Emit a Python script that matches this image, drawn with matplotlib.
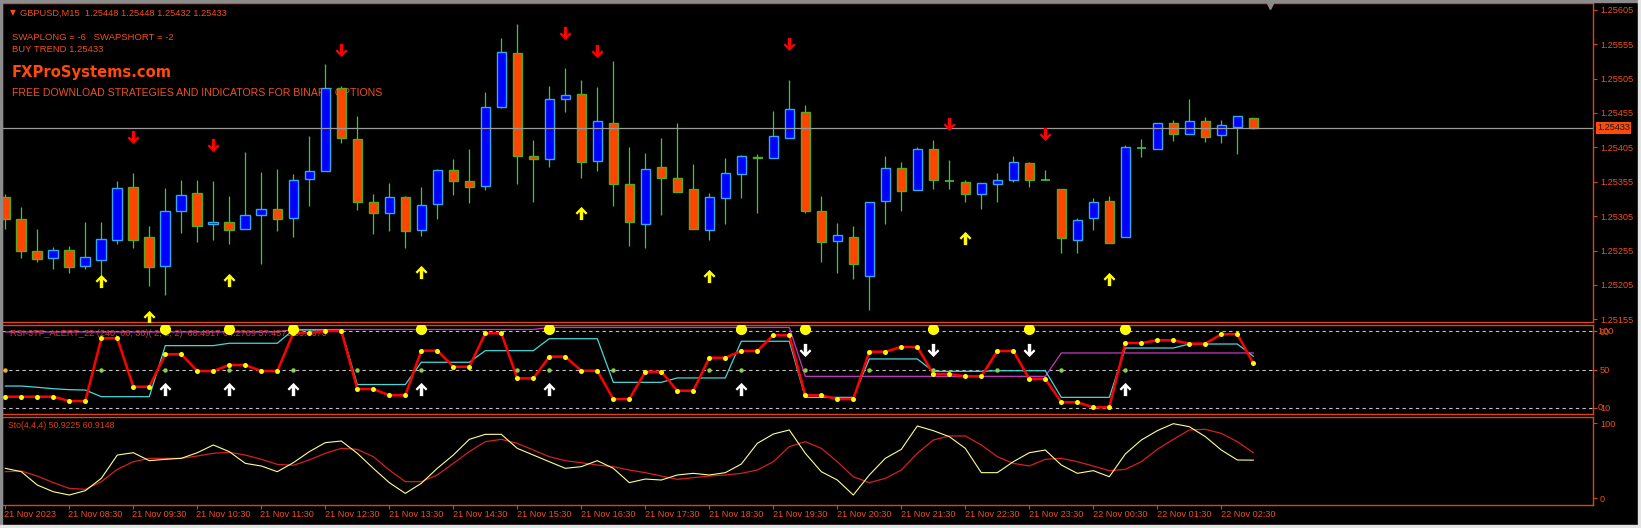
import matplotlib
matplotlib.use('Agg')
import matplotlib.pyplot as plt
import numpy as np
from matplotlib.path import Path
from matplotlib.patches import Rectangle
from matplotlib import font_manager
from matplotlib.font_manager import FontProperties

W, H = 1641, 528

# ---- GBPUSD M15 candles (21 Nov 07:30 .. 22 Nov 03:00)
opens = [1.25333, 1.25301, 1.25255, 1.25244, 1.25255, 1.25233, 1.25241, 1.25271, 1.25348, 1.25274,
         1.25233, 1.25313, 1.25338, 1.25293, 1.25296, 1.25287, 1.25306, 1.25316, 1.25302, 1.25359,
         1.25371, 1.25491, 1.25417, 1.25325, 1.25309, 1.25333, 1.25285, 1.25323, 1.25372, 1.25356,
         1.25349, 1.25464, 1.25542, 1.25392, 1.25388, 1.25475, 1.25483, 1.25385, 1.25440, 1.25352,
         1.25293, 1.25376, 1.25360, 1.25344, 1.25285, 1.25332, 1.25367, 1.25391, 1.25389, 1.25419,
         1.25456, 1.25312, 1.25269, 1.25274, 1.25218, 1.25327, 1.25375, 1.25343, 1.25403, 1.25356,
         1.25355, 1.25337, 1.25352, 1.25357, 1.25382, 1.25357, 1.25344, 1.25271, 1.25303, 1.25327,
         1.25274, 1.25404, 1.25403, 1.25441, 1.25424, 1.25443, 1.25423, 1.25435, 1.25448]
highs = [1.25337, 1.25318, 1.25287, 1.25260, 1.25262, 1.25296, 1.25296, 1.25356, 1.25368, 1.25290,
         1.25346, 1.25357, 1.25358, 1.25356, 1.25334, 1.25399, 1.25369, 1.25373, 1.25366, 1.25421,
         1.25526, 1.25494, 1.25451, 1.25337, 1.25353, 1.25334, 1.25347, 1.25374, 1.25388, 1.25403,
         1.25486, 1.25564, 1.25585, 1.25416, 1.25494, 1.25520, 1.25503, 1.25493, 1.25531, 1.25406,
         1.25397, 1.25418, 1.25441, 1.25381, 1.25339, 1.25389, 1.25394, 1.25395, 1.25458, 1.25503,
         1.25466, 1.25335, 1.25295, 1.25290, 1.25326, 1.25393, 1.25384, 1.25405, 1.25416, 1.25387,
         1.25357, 1.25353, 1.25368, 1.25393, 1.25384, 1.25372, 1.25344, 1.25303, 1.25331, 1.25334,
         1.25408, 1.25417, 1.25441, 1.25445, 1.25475, 1.25449, 1.25445, 1.25450, 1.25448]
lows = [1.25287, 1.25244, 1.25238, 1.25228, 1.25223, 1.25228, 1.25219, 1.25264, 1.25258, 1.25203,
        1.25190, 1.25280, 1.25268, 1.25270, 1.25264, 1.25286, 1.25235, 1.25283, 1.25275, 1.25320,
        1.25370, 1.25411, 1.25314, 1.25279, 1.25283, 1.25258, 1.25276, 1.25301, 1.25336, 1.25324,
        1.25343, 1.25463, 1.25352, 1.25325, 1.25376, 1.25456, 1.25361, 1.25371, 1.25320, 1.25261,
        1.25258, 1.25307, 1.25340, 1.25286, 1.25270, 1.25294, 1.25332, 1.25309, 1.25389, 1.25419,
        1.25309, 1.25239, 1.25223, 1.25214, 1.25169, 1.25293, 1.25313, 1.25343, 1.25344, 1.25344,
        1.25325, 1.25316, 1.25325, 1.25354, 1.25348, 1.25357, 1.25251, 1.25252, 1.25285, 1.25266,
        1.25274, 1.25391, 1.25403, 1.25414, 1.25424, 1.25413, 1.25412, 1.25396, 1.25432]
closes = [1.25301, 1.25255, 1.25243, 1.25255, 1.25231, 1.25245, 1.25272, 1.25346, 1.25271, 1.25231,
          1.25312, 1.25336, 1.25290, 1.25296, 1.25285, 1.25306, 1.25316, 1.25301, 1.25357, 1.25371,
          1.25491, 1.25419, 1.25325, 1.25309, 1.25333, 1.25283, 1.25321, 1.25372, 1.25356, 1.25347,
          1.25464, 1.25544, 1.25392, 1.25388, 1.25475, 1.25481, 1.25384, 1.25443, 1.25352, 1.25296,
          1.25373, 1.25360, 1.25340, 1.25286, 1.25333, 1.25368, 1.25392, 1.25389, 1.25421, 1.25461,
          1.25312, 1.25267, 1.25277, 1.25235, 1.25325, 1.25375, 1.25341, 1.25403, 1.25357, 1.25356,
          1.25337, 1.25353, 1.25357, 1.25384, 1.25357, 1.25357, 1.25273, 1.25300, 1.25326, 1.25266,
          1.25405, 1.25404, 1.25440, 1.25424, 1.25444, 1.25420, 1.25437, 1.25450, 1.25433]

# signal arrows: bar index and price level
sell_idx = [8, 13, 21, 35, 37, 49, 59, 65]
sell_px = [1.25420, 1.25408, 1.25546, 1.25572, 1.25545, 1.25555, 1.25439, 1.25424]
buy_idx = [6, 9, 14, 26, 36, 44, 60, 69]
buy_px = [1.25211, 1.25158, 1.25212, 1.25224, 1.25309, 1.25218, 1.25273, 1.25214]

# ---- RSI 3TF panel
rsi_m30 = [21.4, 21.4, 21.4, 21.4, 16.8, 16.8, 82.8, 82.8, 31.9, 31.9,
           66.0, 66.0, 48.4, 48.4, 54.7, 54.7, 48.4, 48.4, 88.4, 88.4,
           90.5, 90.5, 29.5, 29.5, 22.9, 22.9, 69.8, 69.8, 52.9, 52.9,
           88.1, 88.1, 40.7, 40.7, 63.5, 63.5, 48.7, 48.7, 18.9, 18.9,
           47.7, 47.7, 27.7, 27.7, 62.4, 62.4, 69.5, 69.5, 86.0, 86.0,
           22.8, 22.8, 18.9, 18.9, 68.7, 68.7, 73.7, 73.7, 45.3, 45.3,
           42.8, 42.8, 69.5, 69.5, 40.0, 40.0, 15.5, 15.5, 10.2, 10.2,
           77.9, 77.9, 80.7, 80.7, 77.2, 77.2, 87.1, 87.1, 56.5]
rsi_h1 = [32.6, 32.6, 31.3, 29.8, 28.8, 28.4, 21.4, 21.4, 21.4, 21.4,
          75.1, 75.1, 75.1, 75.1, 77.6, 77.6, 77.6, 77.6, 91.6, 91.6,
          91.6, 91.6, 34.2, 34.2, 34.2, 34.2, 57.6, 57.6, 57.6, 57.6,
          69.8, 69.8, 69.8, 69.8, 82.4, 82.4, 82.4, 82.4, 36.5, 36.5,
          36.5, 36.5, 41.1, 41.1, 41.1, 41.1, 79.7, 79.7, 79.7, 79.7,
          20.7, 20.7, 20.7, 20.7, 61.1, 61.1, 61.1, 61.1, 48.1, 48.1,
          48.1, 48.1, 48.7, 48.7, 48.7, 48.7, 20.7, 20.7, 20.7, 20.7,
          72.6, 72.6, 72.6, 72.6, 76.8, 76.8, 76.8, 76.8, 63.9]
rsi_h4 = [89.5, 89.5, 89.5, 89.5, 89.5, 89.5, 89.5, 89.5, 89.5, 89.5,
          89.5, 89.5, 89.5, 89.5, 89.5, 89.5, 89.5, 89.5, 92.1, 92.1,
          92.1, 92.1, 92.1, 92.1, 92.1, 92.1, 92.1, 92.1, 92.1, 92.1,
          92.1, 92.1, 92.1, 92.1, 94.2, 94.2, 94.2, 94.2, 94.2, 94.2,
          94.2, 94.2, 94.2, 94.2, 94.2, 94.2, 94.2, 94.2, 94.2, 94.2,
          42.8, 42.8, 42.8, 42.8, 42.8, 42.8, 42.8, 42.8, 42.8, 42.8,
          42.8, 42.8, 42.8, 42.8, 42.8, 42.8, 67.4, 67.4, 67.4, 67.4,
          67.4, 67.4, 67.4, 67.4, 67.4, 67.4, 67.4, 67.4, 67.4]
rsi_levels = [90, 50, 10]
rsi_alert_up = [10, 14, 18, 26, 34, 46, 70]
rsi_alert_down = [50, 58, 64]
rsi_cross50 = [6, 10, 14, 18, 22, 26, 32, 34, 38, 44, 46, 50, 54, 58, 62, 66, 70]

# ---- Stochastic(4,4,4)
sto_main = [40.0, 35.5, 17.7, 8.8, 4.4, 10.2, 26.6, 57.7, 60.8, 50.2,
            52.0, 53.3, 60.8, 71.1, 62.2, 46.6, 43.1, 35.5, 47.5, 62.2,
            74.2, 76.4, 60.0, 40.0, 20.9, 6.6, 20.0, 40.0, 57.7, 78.6,
            85.3, 85.3, 66.6, 57.7, 48.8, 40.0, 42.2, 50.2, 40.0, 20.9,
            25.7, 24.4, 31.1, 33.3, 31.1, 34.2, 45.7, 73.3, 85.7, 91.1,
            60.0, 35.5, 24.4, 4.4, 31.1, 53.3, 65.3, 96.4, 90.2, 82.2,
            66.6, 34.2, 34.2, 48.8, 60.8, 64.4, 44.4, 33.3, 36.9, 28.8,
            59.1, 77.7, 90.2, 99.5, 95.5, 82.2, 64.4, 51.1, 50.9]
sto_signal = [35.5, 36.4, 29.7, 20.9, 13.3, 12.0, 22.2, 38.6, 48.8, 53.3,
              53.3, 53.3, 56.4, 60.0, 61.3, 57.7, 52.0, 45.3, 44.0, 51.1,
              60.0, 66.6, 65.3, 55.5, 37.7, 22.2, 22.2, 31.1, 46.6, 62.2,
              75.5, 78.6, 73.3, 64.4, 55.5, 50.2, 47.5, 44.4, 42.2, 37.7,
              34.2, 29.7, 25.3, 27.5, 29.7, 31.1, 33.3, 37.7, 48.8, 68.9,
              75.5, 66.6, 48.8, 28.8, 20.9, 26.6, 37.7, 60.0, 77.7, 83.1,
              83.1, 71.1, 55.5, 46.6, 43.1, 52.0, 53.3, 48.8, 43.1, 36.9,
              38.6, 48.8, 65.3, 78.6, 91.1, 92.0, 86.6, 75.5, 60.9]

time_labels = ['21 Nov 2023', '21 Nov 08:30', '21 Nov 09:30', '21 Nov 10:30', '21 Nov 11:30',
               '21 Nov 12:30', '21 Nov 13:30', '21 Nov 14:30', '21 Nov 15:30', '21 Nov 16:30',
               '21 Nov 17:30', '21 Nov 18:30', '21 Nov 19:30', '21 Nov 20:30', '21 Nov 21:30',
               '21 Nov 22:30', '21 Nov 23:30', '22 Nov 00:30', '22 Nov 01:30', '22 Nov 02:30']
price_ticks = [1.25155, 1.25205, 1.25255, 1.25305, 1.25355, 1.25405, 1.25455, 1.25505, 1.25555, 1.25605]

BG = 'black'
FRAME = '#d8471a'
TXT = '#f0501e'
UP_FACE, UP_EDGE = '#0000ff', '#35a8ee'
DN_FACE, DN_EDGE = '#ff4500', '#5aa822'
WICK = '#3cc83c'

plt.rcParams['font.family'] = ['Liberation Sans', 'DejaVu Sans']


def find_condensed_bold():
    # look for any narrow / condensed bold face for the logo
    for f in font_manager.fontManager.ttflist:
        tag = (f.name + ' ' + f.fname).lower()
        w = f.weight if isinstance(f.weight, int) else {'bold': 700}.get(str(f.weight), 400)
        if ('narrow' in tag or 'condensed' in tag or 'condensed' in str(f.stretch)) and w >= 700 \
                and f.style == 'normal':
            return FontProperties(fname=f.fname)
    return FontProperties(family='Liberation Sans', weight='bold')


def box(x0, y0, x1, y1):
    return [x0 / W, 1 - y1 / H, (x1 - x0) / W, (y1 - y0) / H]


def fxy(x, y):
    return x / W, 1 - y / H


up_v = [(0, 0.5), (0.45, 0.04), (0.33, -0.09), (0.13, 0.12), (0.13, -0.5),
        (-0.13, -0.5), (-0.13, 0.12), (-0.33, -0.09), (-0.45, 0.04), (0, 0.5)]
codes = [Path.MOVETO] + [Path.LINETO] * 8 + [Path.CLOSEPOLY]
arrow_up = Path(up_v, codes)
arrow_down = Path([(x, -y) for x, y in up_v], codes)

fig = plt.figure(figsize=(W / 100, H / 100), dpi=100, facecolor=BG)
ax = fig.add_axes(box(2, 3, 1593, 322))
ax_rsi = fig.add_axes(box(2, 325, 1593, 414))
ax_sto = fig.add_axes(box(2, 416.7, 1593, 505))

for a in (ax, ax_rsi, ax_sto):
    a.set_facecolor(BG)
    a.set_xlim(-0.206, 99.23)
    for s in a.spines.values():
        s.set_color(FRAME)
        s.set_linewidth(1)
    a.yaxis.tick_right()
    a.tick_params(axis='y', colors=FRAME, labelcolor=TXT, length=3, width=0.8,
                  labelsize=6.6, pad=2, direction='out')
    a.tick_params(axis='x', bottom=False, labelbottom=False)

# candles
x = np.arange(len(opens))
o = np.array(opens)
c = np.array(closes)
ax.vlines(x, lows, highs, color=WICK, lw=0.9, zorder=2)
bull = c > o
bear = c < o
doji = c == o
ax.bar(x[bull], (c - o)[bull], 0.6, bottom=o[bull], color=UP_FACE, edgecolor=UP_EDGE, lw=1, zorder=3)
ax.bar(x[bear], (o - c)[bear], 0.6, bottom=c[bear], color=DN_FACE, edgecolor=DN_EDGE, lw=1, zorder=3)
ax.hlines(c[doji], x[doji] - 0.3, x[doji] + 0.3, color=WICK, lw=1.2, zorder=3)
ax.axhline(closes[-1], color='#9a9a9a', lw=0.9, zorder=4)

ax.plot(sell_idx, sell_px, ls='none', marker=arrow_down, ms=9.5, color='#ff0000', mew=0, zorder=5)
ax.plot(buy_idx, buy_px, ls='none', marker=arrow_up, ms=9.5, color='#ffff00', mew=0, zorder=5)

ax.set_ylim(1.25151, 1.25615)
ax.set_yticks(price_ticks)
ax.set_yticklabels(['%.5f' % p for p in price_ticks])

# chart texts
ax.text(*fxy(10, 13), '\u25bc', transform=fig.transFigure, color=TXT, fontsize=5.5,
        family=['DejaVu Sans'], va='center', zorder=1)
ax.text(*fxy(20.5, 13), 'GBPUSD,M15  1.25448 1.25448 1.25432 1.25433', transform=fig.transFigure,
        color=TXT, fontsize=6.7, va='center', zorder=1)
ax.text(*fxy(12.5, 37.5), 'SWAPLONG = -6   SWAPSHORT = -2', transform=fig.transFigure,
        color=TXT, fontsize=6.8, va='center', zorder=1)
ax.text(*fxy(12.5, 49.5), 'BUY TREND 1.25433', transform=fig.transFigure,
        color=TXT, fontsize=6.8, va='center', zorder=1)
logo = ax.text(*fxy(12, 72), 'FXProSystems.com', transform=fig.transFigure, color='#ff4a0a',
               fontproperties=find_condensed_bold(), va='center', zorder=1)
logo.set_fontsize(16)
promo = ax.text(*fxy(12.5, 93), 'FREE DOWNLOAD STRATEGIES AND INDICATORS FOR BINARY OPTIONS',
                transform=fig.transFigure, color=TXT, fontsize=7.4, va='center', zorder=1)
fig.text(*fxy(1597, 128), '%.5f' % closes[-1], color='#1a1a1a', fontsize=6.6, va='center',
         bbox=dict(facecolor='#ff4a0a', edgecolor='none', boxstyle='square,pad=0.15'))

# fit the two banner texts to the widths seen on the chart
fig.canvas.draw()
for t, target in ((logo, 160.0), (promo, 370.0)):
    wpx = t.get_window_extent().width
    t.set_fontsize(t.get_fontsize() * target / wpx)

# RSI panel
ax_rsi.set_ylim(3.2, 96.8)
for lv in rsi_levels:
    ax_rsi.axhline(lv, color='#c4c4c4', lw=0.8, ls=(0, (3, 3)), zorder=1)
ax_rsi.text(*fxy(10, 333.5), 'RSI-3TF_ALERT_22 (240, 60, 30)( 2, 2, 2)  68.4917 64.2709 57.4573 53.4673',
            transform=fig.transFigure, color='#d8401a', fontsize=6.6, va='center', zorder=1)
ax_rsi.plot(x, rsi_h4, color='#c438c4', lw=0.9, zorder=2)
ax_rsi.plot(x, rsi_h1, color='#48d8d8', lw=0.9, zorder=2)
ax_rsi.plot(x, rsi_m30, color='#ff0000', lw=1.8, zorder=3)
ax_rsi.plot(x, rsi_m30, ls='none', marker='o', ms=3.6, color='#ffff00', mew=0, zorder=4)
ax_rsi.plot(rsi_cross50, [50] * len(rsi_cross50), ls='none', marker='o', ms=3.2,
            color='#8fd040', mew=0, zorder=4)
ax_rsi.plot([0], [50], ls='none', marker='o', ms=3.2, color='#f0b020', mew=0, zorder=4)
alerts = sorted(rsi_alert_up + rsi_alert_down)
ax_rsi.plot(alerts, [92.1] * len(alerts), ls='none', marker='o', ms=8, color='#ffff00',
            mew=0, zorder=5)
ax_rsi.plot(rsi_alert_up, [30] * len(rsi_alert_up), ls='none', marker=arrow_up, ms=9.5,
            color='white', mew=0, zorder=5)
ax_rsi.plot(rsi_alert_down, [70] * len(rsi_alert_down), ls='none', marker=arrow_down, ms=9.5,
            color='white', mew=0, zorder=5)
ax_rsi.set_yticks(rsi_levels)
ax_rsi.set_yticklabels([str(v) for v in rsi_levels])
for lv, extra in ((90, '100'), (10, '0')):
    ax_rsi.text(1.0, lv, '  ' + extra, transform=ax_rsi.get_yaxis_transform(), color=TXT,
                fontsize=6.6, va='center', ha='left', clip_on=False)

# Stochastic panel
ax_sto.set_ylim(-8.9, 108.8)
ax_sto.plot(x, sto_signal, color='#d42020', lw=0.9, zorder=2)
ax_sto.plot(x, sto_main, color='#ffff90', lw=0.8, zorder=3)
ax_sto.set_yticks([0, 100])
ax_sto.set_yticklabels(['0', '100'])
ax_sto.text(*fxy(8, 425), 'Sto(4,4,4) 50.9225 60.9148', transform=fig.transFigure,
            color='#d8401a', fontsize=6.3, va='center', zorder=1)

# time axis
tick_pos = list(range(0, len(opens), 4))
ax_sto.set_xticks(tick_pos)
ax_sto.tick_params(axis='x', bottom=True, labelbottom=False, color=FRAME, length=3, width=0.8,
                   direction='out')
for i, lab in zip(tick_pos, time_labels):
    ax_sto.text(i - 0.05, -0.11, lab, transform=ax_sto.get_xaxis_transform(), color=TXT,
                fontsize=6.6, va='center', ha='left', clip_on=False)

# chart shift marker and window border
fig.add_artist(plt.Line2D([1270 / W], [1 - 6 / H], marker='v', ms=5, color='#8a8a8a',
                          transform=fig.transFigure))
fig.add_artist(Rectangle((0, 1 - 2 / H), 1, 2 / H, transform=fig.transFigure, color='#8c8c8c'))
fig.add_artist(Rectangle((0, 0), 2 / W, 1, transform=fig.transFigure, color='#8c8c8c'))
fig.add_artist(Rectangle((0, 0), 1, 3 / H, transform=fig.transFigure, color='#e4e4e4'))
fig.add_artist(Rectangle((1 - 3 / W, 0), 3 / W, 1, transform=fig.transFigure, color='#e4e4e4'))

fig.savefig('out.png', dpi=100, facecolor=BG)
